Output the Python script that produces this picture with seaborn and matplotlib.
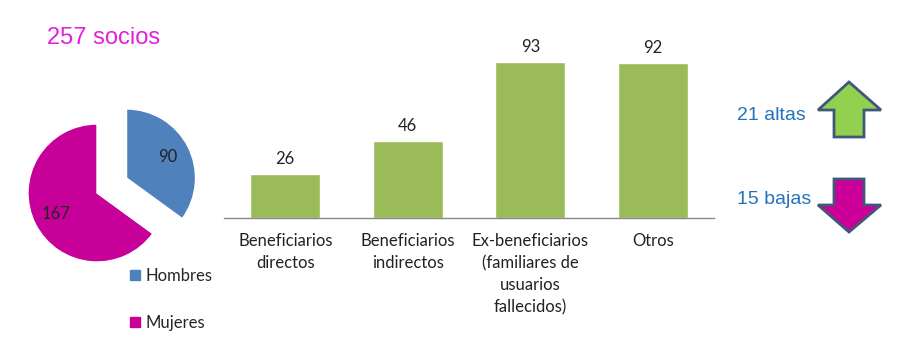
import numpy as np
import pandas as pd
import seaborn as sns
from matplotlib import pyplot as plt
from matplotlib.patches import Polygon
from matplotlib.lines import Line2D

# data
sexo = ["Hombres", "Mujeres"]
socios_sexo = [90, 167]
categorias = ["Beneficiarios\ndirectos", "Beneficiarios\nindirectos",
              "Ex-beneficiarios\n(familiares de\nusuarios\nfallecidos)", "Otros"]
socios_tipo = [26, 46, 93, 92]
altas = 21
bajas = 15

sns.set_theme(style="white")
plt.rcParams["font.family"] = ["Lato", "DejaVu Sans"]

W, H = 916, 357
fig = plt.figure(figsize=(W / 100, H / 100), dpi=100)
fig.patch.set_facecolor("white")

col_h = "#4F81BD"
col_m = "#C8009A"
col_bar = "#9BBB59"


def px_rect(x0, y0, x1, y1):
    return [x0 / W, 1 - y1 / H, (x1 - x0) / W, (y1 - y0) / H]


# pie
R = 69
cx, cy = 97, 193
ax_pie = fig.add_axes(px_rect(cx - 2 * R, cy - 2 * R, cx + 2 * R, cy + 2 * R))
total = sum(socios_sexo)
wedges, _, autotexts = ax_pie.pie(
    socios_sexo, colors=[col_h, col_m], startangle=90, counterclock=False,
    explode=[0.48, 0], autopct=lambda p: f"{round(p * total / 100)}",
    pctdistance=0.67, textprops={"fontsize": 12, "color": "#222222"})
ax_pie.set_xlim(-2, 2)
ax_pie.set_ylim(-2, 2)
ax_pie.set_aspect("equal")
ax_pie.axis("off")

handles = [Line2D([], [], marker="s", linestyle="", markersize=7.5, color=c) for c in [col_h, col_m]]
fig.legend(handles, sexo, loc="upper left", bbox_to_anchor=(128 / W, 1 - 268 / H),
           frameon=False, fontsize=12, handlelength=0.8, handletextpad=0.25,
           labelspacing=1.85, borderaxespad=0, borderpad=0)

fig.text(47 / W, 1 - 38 / H, f"{total} socios", color="#E020DD", fontsize=17,
         family="Liberation Sans", va="center", ha="left")

# bars
ax = fig.add_axes(px_rect(224, 50, 714, 218))
df = pd.DataFrame({"categoria": categorias, "socios": socios_tipo})
sns.barplot(data=df, x="categoria", y="socios", color=col_bar, saturation=1,
            width=0.57, ax=ax)
ax.bar_label(ax.containers[0], padding=5, fontsize=12, color="#222222")
ax.set_xlim(-0.5, 3.5)
ax.set_ylim(0, 100)
ax.set_xlabel("")
ax.set_ylabel("")
ax.set_yticks([])
ax.tick_params(axis="x", length=0, pad=11, labelsize=12, labelcolor="#222222")
for lbl in ax.get_xticklabels():
    lbl.set_linespacing(1.45)
for s in ["top", "right", "left"]:
    ax.spines[s].set_visible(False)
ax.spines["bottom"].set_color("#888888")
ax.spines["bottom"].set_linewidth(1)
ax.set_facecolor("none")

# altas / bajas
ax_o = fig.add_axes([0, 0, 1, 1])
ax_o.set_xlim(0, W)
ax_o.set_ylim(H, 0)
ax_o.axis("off")
up = [(849, 82), (881, 110), (864, 110), (864, 137), (834, 137), (834, 110), (818, 110)]
down = [(834, 179), (864, 179), (864, 205), (881, 205), (849, 232), (818, 205), (834, 205)]
ax_o.add_patch(Polygon(up, closed=True, facecolor="#92D050", edgecolor="#41577A", linewidth=2))
ax_o.add_patch(Polygon(down, closed=True, facecolor="#CC0099", edgecolor="#41577A", linewidth=2))
ax_o.text(737, 115, f"{altas} altas", color="#2472BC", fontsize=14,
          family="Liberation Sans", va="center", ha="left")
ax_o.text(737, 200, f"{bajas} bajas", color="#2472BC", fontsize=14,
          family="Liberation Sans", va="center", ha="left")

fig.savefig("out.png", dpi=100)
